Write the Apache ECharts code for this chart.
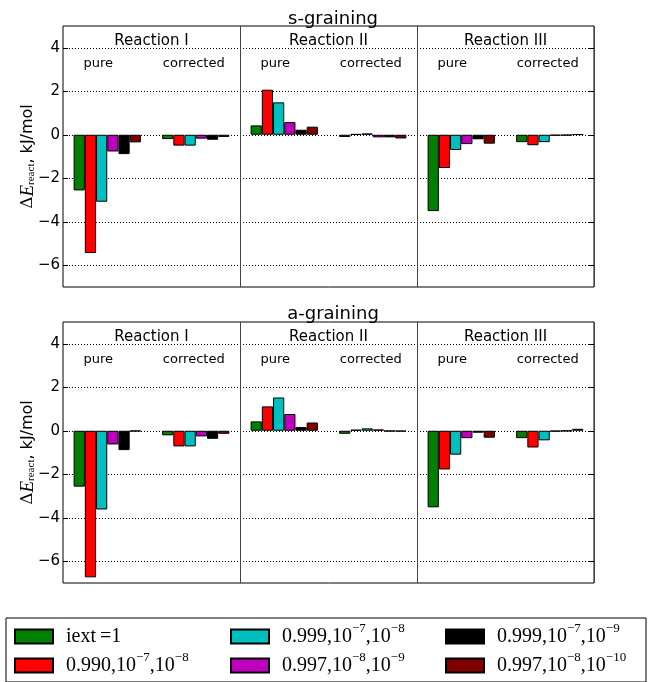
<!DOCTYPE html>
<html>
<head>
<meta charset="utf-8">
<script src="https://cdn.jsdelivr.net/npm/echarts@6/dist/echarts.min.js"></script>
<style>
  html, body { margin: 0; padding: 0; background: #fff; }
</style>
</head>
<body>
<div id="main" style="width:650px;height:682px;"></div>
<script type="text/javascript">
// x categories: Reaction I/II/III, each pure + corrected
var categories = ['I-pure', 'I-corrected', 'II-pure', 'II-corrected', 'III-pure', 'III-corrected'];
var reactions = ['Reaction I', 'Reaction II', 'Reaction III'];
var tickValues = [-6, -4, -2, 0, 2, 4];
var names = ['iext=1', '0.990,1e-7,1e-8', '0.999,1e-7,1e-8', '0.997,1e-8,1e-9', '0.999,1e-7,1e-9', '0.997,1e-8,1e-10'];
var colors = ['#008000', '#ff0000', '#00bfbf', '#bf00bf', '#000000', '#800000'];

// s-graining
var s_iext1    = [-2.56, -0.20,  0.43, -0.10, -3.51, -0.34];
var s_990_7_8  = [-5.44, -0.50,  2.07,  0.03, -1.53, -0.48];
var s_999_7_8  = [-3.08, -0.50,  1.49,  0.06, -0.70, -0.34];
var s_997_8_9  = [-0.77, -0.18,  0.58, -0.12, -0.43, -0.04];
var s_999_7_9  = [-0.89, -0.23,  0.23, -0.12, -0.21, -0.03];
var s_997_8_10 = [-0.35, -0.10,  0.37, -0.17, -0.41,  0.02];

// a-graining
var a_iext1    = [-2.57, -0.21,  0.43, -0.14, -3.52, -0.34];
var a_990_7_8  = [-6.74, -0.72,  1.12,  0.05, -1.78, -0.77];
var a_999_7_8  = [-3.62, -0.72,  1.53,  0.11, -1.10, -0.44];
var a_997_8_9  = [-0.63, -0.26,  0.77,  0.06, -0.34, -0.03];
var a_999_7_9  = [-0.89, -0.37,  0.17, -0.02, -0.09, -0.01];
var a_997_8_10 = [-0.02, -0.14,  0.38, -0.03, -0.32,  0.09];

var sData = [s_iext1, s_990_7_8, s_999_7_8, s_997_8_9, s_999_7_9, s_997_8_10];
var aData = [a_iext1, a_990_7_8, a_999_7_8, a_997_8_9, a_999_7_9, a_997_8_10];

function legendText(name) {
    if (name === 'iext=1') return '{n|iext\u2009=1}';
    var p = name.split(',');
    var out = '{n|' + p[0] + ',10}';
    out += '{s|\u2212' + p[1].split('e-')[1] + '}';
    out += '{n|,10}{s|\u2212' + p[2].split('e-')[1] + '}';
    return out;
}

var chart = echarts.init(document.getElementById('main'));

var grids = [
    { left: 63, right: 56, top: 26, height: 261 },
    { left: 63, right: 56, top: 322, height: 261 }
];

var xAxes = [], yAxes = [], series = [];
[0, 1].forEach(function (g) {
    xAxes.push({
        type: 'category', gridIndex: g, data: categories, position: 'top',
        axisLine: { show: false }, axisTick: { show: false },
        axisLabel: {
            inside: true, margin: 31, color: '#000',
            formatter: function (v) {
                return v.indexOf('pure') >= 0 ? '{p|pure}' : '{c|corrected}';
            },
            rich: {
                p: { fontFamily: 'DejaVu Sans', fontSize: 13, padding: [0, 18, 0, 0] },
                c: { fontFamily: 'DejaVu Sans', fontSize: 13, padding: [0, 4, 0, 0] }
            }
        },
        splitLine: {
            show: true,
            interval: function (i) { return i === 2 || i === 4; },
            lineStyle: { color: '#444', width: 1, type: 'solid' }
        }
    });
    xAxes.push({
        type: 'category', gridIndex: g, data: reactions, position: 'top',
        axisLine: { show: false }, axisTick: { show: false },
        axisLabel: { inside: true, margin: 8, color: '#000', fontFamily: 'DejaVu Sans', fontSize: 15 },
        splitLine: { show: false }
    });
    yAxes.push({
        type: 'value', gridIndex: g, min: -7, max: 5, interval: 1,
        name: '{d|\u0394}{e|E}{s|react}{n|, kJ/mol}',
        nameLocation: 'middle', nameGap: 26, nameRotate: 90, nameMoveOverlap: false,
        nameTextStyle: {
            color: '#000',
            rich: {
                d: { fontFamily: 'DejaVu Serif', fontSize: 17 },
                e: { fontFamily: 'Liberation Serif', fontStyle: 'italic', fontSize: 19 },
                s: { fontFamily: 'Liberation Serif', fontSize: 11, verticalAlign: 'bottom', padding: [6, 0, 0, 0] },
                n: { fontFamily: 'DejaVu Sans', fontSize: 16 }
            }
        },
        axisLine: { show: false },
        axisTick: { show: true, inside: true, length: 5, customValues: tickValues, lineStyle: { color: '#000' } },
        axisLabel: {
            customValues: tickValues, margin: 3, color: '#000', fontFamily: 'DejaVu Sans', fontSize: 15,
            formatter: function (v) { return v < 0 ? '\u2212' + (-v) : String(v); }
        },
        splitLine: { show: true, lineStyle: { color: '#000', width: 1, type: [1, 2] } }
    });
    yAxes.push({
        type: 'value', gridIndex: g, min: -7, max: 5, interval: 1, position: 'right',
        axisLine: { show: false },
        axisTick: { show: true, inside: true, length: 5, customValues: tickValues, lineStyle: { color: '#000' } },
        axisLabel: { show: false },
        splitLine: { show: false }
    });
    var vals = g === 0 ? sData : aData;
    names.forEach(function (nm, k) {
        series.push({
            name: nm, type: 'bar', xAxisIndex: g * 2, yAxisIndex: g * 2,
            data: vals[k],
            barGap: '0%', barCategoryGap: '24%',
            itemStyle: { color: colors[k], borderColor: '#000', borderWidth: 1 }
        });
    });
});

var legendTextStyle = {
    width: 150, padding: [0, 0, 0, 8], lineHeight: 29, color: '#000',
    rich: {
        n: { fontFamily: 'Liberation Serif', fontSize: 20 },
        s: { fontFamily: 'Liberation Serif', fontSize: 13, verticalAlign: 'top' }
    }
};
function makeLegend(data, left, extra) {
    return Object.assign({
        left: left, top: 622, height: 80, orient: 'vertical',
        data: data, icon: 'rect',
        itemWidth: 38, itemHeight: 14, itemGap: 0, padding: 0,
        formatter: legendText, textStyle: legendTextStyle
    }, extra || {});
}

var option = {
    backgroundColor: '#fff',
    animation: false,
    title: [
        { text: 's-graining', left: 328, top: 5, textAlign: 'center',
          textStyle: { fontFamily: 'DejaVu Sans', fontSize: 18, fontWeight: 'normal', color: '#000' } },
        { text: 'a-graining', left: 328, top: 300, textAlign: 'center',
          textStyle: { fontFamily: 'DejaVu Sans', fontSize: 18, fontWeight: 'normal', color: '#000' } }
    ],
    grid: grids.map(function (g) {
        return Object.assign({ show: true, borderColor: '#000', borderWidth: 1 }, g);
    }),
    xAxis: xAxes,
    yAxis: yAxes,
    legend: [
        makeLegend([names[0], names[1]], 6, {
            top: 618, borderColor: '#000', borderWidth: 1, padding: [4, 430, 2, 8]
        }),
        makeLegend([names[2], names[3]], 230),
        makeLegend([names[4], names[5]], 445)
    ],
    series: series
};

chart.setOption(option);
</script>
</body>
</html>
